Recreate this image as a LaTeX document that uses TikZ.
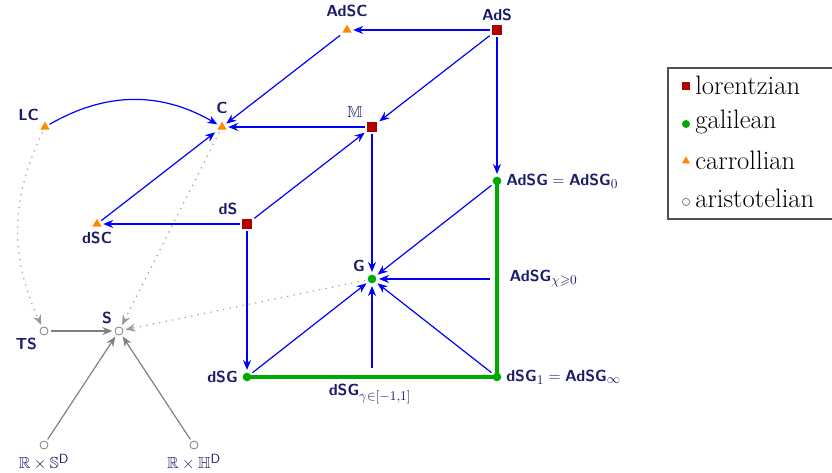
\documentclass[tikz,border=0pt]{standalone}
\usepackage{amsmath,amssymb}
\usepackage{tikz}
\usetikzlibrary{arrows.meta,shapes.geometric}
\DeclareMathSizes{12}{12}{10}{8}
\definecolor{labtext}{HTML}{1C1C6B}
\definecolor{lorcol}{HTML}{B00000}
\definecolor{galcol}{HTML}{00AA00}
\definecolor{carcol}{HTML}{FF8800}
\definecolor{aricol}{HTML}{808080}
\definecolor{legframe}{HTML}{505050}

\begin{document}
\begin{tikzpicture}[x=0.75pt,y=0.75pt,>={Stealth[length=7.5pt,width=6pt]},
  every label/.style={font=\fontsize{12}{14}\sffamily\bfseries,text=labtext,inner sep=1.5pt},
  lor/.style={rectangle,fill=lorcol,minimum size=7pt,inner sep=0pt,outer sep=2pt},
  gal/.style={circle,fill=galcol,minimum size=6.5pt,inner sep=0pt,outer sep=2pt},
  car/.style={regular polygon,regular polygon sides=3,fill=carcol,minimum size=8pt,inner sep=0pt,outer sep=2pt},
  ari/.style={circle,draw=aricol,line width=0.6pt,fill=white,minimum size=6pt,inner sep=0pt,outer sep=2pt},
  edge/.style={->,blue,line width=0.9pt},
  galline/.style={galcol,line width=3.4pt},
  ariedge/.style={->,aricol,line width=0.9pt},
  dotedge/.style={->,aricol!80,line width=0.9pt,loosely dotted},
  legtext/.style={font=\fontsize{20}{22}\selectfont,anchor=base west,inner sep=0pt}]
\useasboundingbox (0,0) rectangle (832,473);

% lorentzian
\node[lor,label=above:AdS] (AdS) at (497,443) {};
\node[lor,label={above left:$\mathbb{M}$}] (M) at (372,346) {};
\node[lor,label=above left:dS] (dS) at (247,249) {};
% carrollian
\node[car,label=above:AdSC] (AdSC) at (347,443) {};
\node[car,label=above:C] (C) at (222,346) {};
\node[car,label=above left:LC] (LC) at (45,346) {};
\node[car,label=below:dSC] (dSC) at (97,249) {};
% galilean
\node[gal,label={right:AdSG${}={}$AdSG$_0$}] (AdSG) at (497,292) {};
\node[gal,label=above left:G] (G) at (372,194) {};
\node[gal,label=left:dSG] (dSG) at (247,96) {};
\node[gal,label={right:dSG$_1$${}={}$AdSG$_\infty$}] (dSG1) at (497,96) {};
% aristotelian
\node[ari,label=above left:S] (S) at (119,142) {};
\node[ari,label=below left:TS] (TS) at (44,142) {};
\node[ari,label={below:$\mathbb{R}\times\mathbb{S}^{\mathsf{D}}$}] (RS) at (44,28) {};
\node[ari,label={below:$\mathbb{R}\times\mathbb{H}^{\mathsf{D}}$}] (RH) at (194,28) {};

% families
\node[font=\fontsize{12}{14}\sffamily\bfseries,text=labtext,anchor=west] (chilab) at (505,194) {AdSG$_{\chi\geqslant 0}$};
\node[font=\fontsize{12}{14}\sffamily\bfseries,text=labtext] (gamlab) at (370,79) {dSG$_{\gamma\in[-1,1]}$};
\coordinate (chi) at (490,194);
\coordinate (gam) at (372,105);

\draw[galline] (dSG.center) -- (dSG1.center) -- (AdSG.center);

\draw[edge] (AdS) -- (AdSC);
\draw[edge] (AdS) -- (M);
\draw[edge] (AdS) -- (AdSG);
\draw[edge] (AdSC) -- (C);
\draw[edge] (M) -- (C);
\draw[edge] (LC) to[bend left=30] (C);
\draw[edge] (dSC) -- (C);
\draw[edge] (dS) -- (dSC);
\draw[edge] (dS) -- (M);
\draw[edge] (dS) -- (dSG);
\draw[edge] (M) -- (G);
\draw[edge] (AdSG) -- (G);
\draw[edge] (chi) -- (G);
\draw[edge] (dSG1) -- (G);
\draw[edge] (gam) -- (G);
\draw[edge] (dSG) -- (G);

\draw[ariedge] (TS) -- (S);
\draw[ariedge] (RS) -- (S);
\draw[ariedge] (RH) -- (S);
\draw[dotedge] (LC) to[bend right=25] (TS);
\draw[dotedge] (C) -- (S);
\draw[dotedge] (G) -- (S);

% legend
\draw[legframe,line width=1.6pt] (668,405) rectangle (834,254);
\node[lor,minimum size=6pt] (klor) at (686,387) {};
\node[gal,minimum size=6pt] (kgal) at (686,349) {};
\node[car,minimum size=7pt] (kcar) at (686,312) {};
\node[ari,minimum size=5.5pt] (kari) at (686,271) {};
\node[legtext] (tlor) at (695,378) {lorentzian};
\node[legtext] (tgal) at (695,344) {galilean};
\node[legtext] (tcar) at (695,303) {carrollian};
\node[legtext] (tari) at (695,265) {aristotelian};
\end{tikzpicture}
\end{document}
